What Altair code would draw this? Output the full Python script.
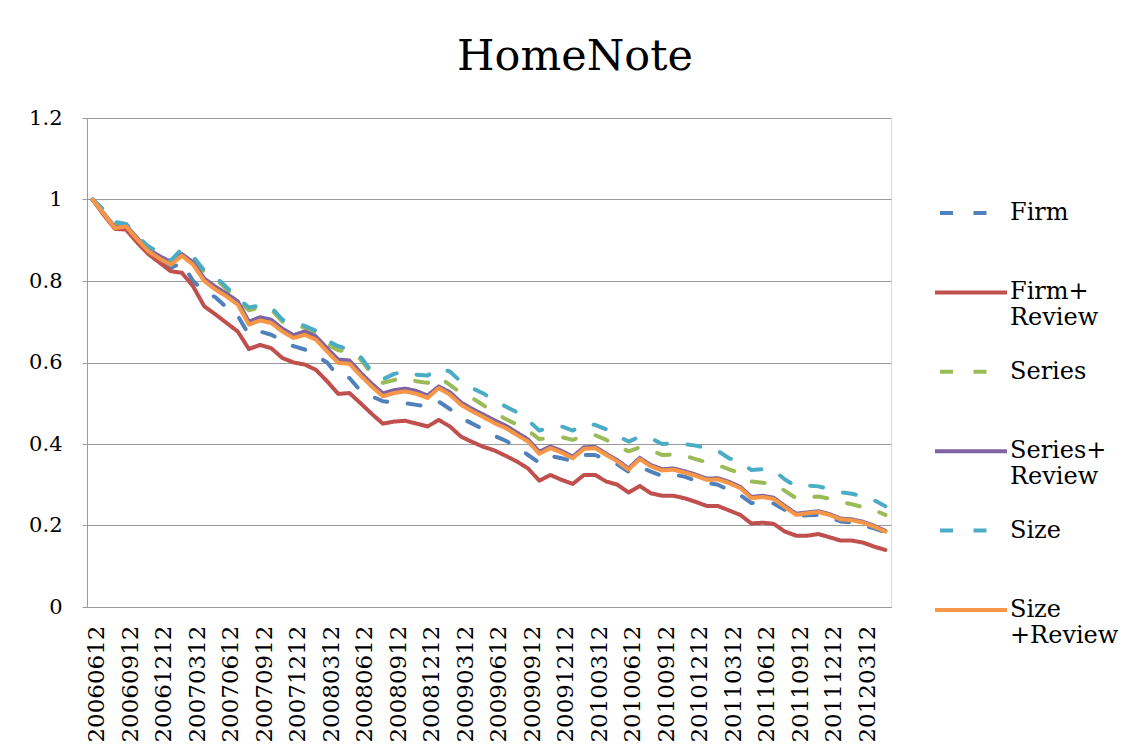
import altair as alt
import pandas as pd

# Category labels (monthly, 200606 .. 201205)
months = [f"{y}{m:02d}12" for y in range(2006, 2013) for m in range(1, 13)][5:5 + 72]
tick_labels = months[::3]

series_names = ["Firm", "Firm+Review", "Series", "Series+Review", "Size", "Size+Review"]
colors = ["#4F81BD", "#C0504D", "#9BBB59", "#8064A2", "#4BACC6", "#F79646"]

firm = [1.000, 0.965, 0.930, 0.930, 0.898, 0.870, 0.850, 0.832, 0.845, 0.800,
        0.775, 0.760, 0.735, 0.715, 0.668, 0.676, 0.668, 0.654, 0.640, 0.632,
        0.617, 0.600, 0.566, 0.562, 0.530, 0.517, 0.505, 0.502, 0.500, 0.496,
        0.492, 0.504, 0.486, 0.464, 0.450, 0.436, 0.420, 0.408, 0.392, 0.373,
        0.354, 0.371, 0.365, 0.358, 0.373, 0.373, 0.362, 0.350, 0.332, 0.345,
        0.332, 0.322, 0.325, 0.320, 0.310, 0.305, 0.300, 0.287, 0.275, 0.255,
        0.257, 0.254, 0.238, 0.224, 0.225, 0.226, 0.220, 0.210, 0.207, 0.200,
        0.193, 0.183]
firm_review = [1.000, 0.962, 0.928, 0.926, 0.894, 0.866, 0.845, 0.824, 0.820, 0.787,
               0.738, 0.718, 0.697, 0.676, 0.633, 0.643, 0.635, 0.611, 0.600, 0.595,
               0.582, 0.554, 0.523, 0.525, 0.500, 0.474, 0.450, 0.455, 0.457, 0.450,
               0.443, 0.459, 0.443, 0.418, 0.405, 0.393, 0.384, 0.371, 0.357, 0.340,
               0.310, 0.324, 0.312, 0.302, 0.324, 0.324, 0.308, 0.300, 0.281, 0.297,
               0.279, 0.273, 0.273, 0.267, 0.258, 0.248, 0.248, 0.237, 0.226, 0.205,
               0.207, 0.204, 0.185, 0.175, 0.175, 0.179, 0.171, 0.163, 0.163, 0.158,
               0.148, 0.140]
series = [1.000, 0.972, 0.942, 0.937, 0.907, 0.882, 0.866, 0.846, 0.873, 0.855,
          0.822, 0.806, 0.780, 0.752, 0.728, 0.735, 0.730, 0.700, 0.694, 0.685,
          0.670, 0.645, 0.630, 0.627, 0.608, 0.572, 0.550, 0.557, 0.562, 0.554,
          0.550, 0.564, 0.545, 0.525, 0.513, 0.495, 0.477, 0.461, 0.448, 0.433,
          0.412, 0.415, 0.417, 0.410, 0.420, 0.422, 0.410, 0.395, 0.382, 0.392,
          0.385, 0.373, 0.374, 0.371, 0.363, 0.355, 0.348, 0.338, 0.328, 0.308,
          0.305, 0.302, 0.285, 0.267, 0.270, 0.271, 0.266, 0.258, 0.252, 0.245,
          0.238, 0.226]
series_review = [1.000, 0.966, 0.932, 0.936, 0.905, 0.877, 0.861, 0.847, 0.866, 0.846,
                 0.806, 0.786, 0.769, 0.750, 0.700, 0.711, 0.705, 0.683, 0.667, 0.676,
                 0.664, 0.635, 0.607, 0.605, 0.575, 0.548, 0.524, 0.532, 0.536, 0.530,
                 0.519, 0.541, 0.527, 0.502, 0.486, 0.472, 0.458, 0.445, 0.428, 0.411,
                 0.381, 0.394, 0.383, 0.369, 0.392, 0.393, 0.376, 0.360, 0.340, 0.366,
                 0.348, 0.338, 0.340, 0.333, 0.325, 0.315, 0.316, 0.307, 0.295, 0.270,
                 0.273, 0.268, 0.248, 0.229, 0.232, 0.235, 0.228, 0.217, 0.215, 0.209,
                 0.199, 0.187]
size = [1.000, 0.975, 0.945, 0.940, 0.910, 0.885, 0.870, 0.850, 0.879, 0.860,
        0.826, 0.810, 0.785, 0.758, 0.735, 0.740, 0.736, 0.705, 0.698, 0.690,
        0.678, 0.654, 0.640, 0.632, 0.614, 0.578, 0.559, 0.572, 0.578, 0.570,
        0.568, 0.586, 0.578, 0.552, 0.537, 0.524, 0.505, 0.492, 0.478, 0.458,
        0.433, 0.440, 0.443, 0.433, 0.448, 0.447, 0.436, 0.420, 0.406, 0.418,
        0.414, 0.400, 0.402, 0.400, 0.396, 0.390, 0.383, 0.365, 0.355, 0.336,
        0.338, 0.335, 0.313, 0.296, 0.298, 0.296, 0.289, 0.282, 0.278, 0.271,
        0.262, 0.247]
size_review = [1.000, 0.965, 0.930, 0.934, 0.902, 0.873, 0.855, 0.840, 0.862, 0.840,
               0.800, 0.779, 0.762, 0.742, 0.693, 0.703, 0.697, 0.676, 0.660, 0.668,
               0.656, 0.627, 0.599, 0.597, 0.568, 0.541, 0.517, 0.525, 0.529, 0.523,
               0.513, 0.537, 0.521, 0.496, 0.480, 0.466, 0.451, 0.439, 0.422, 0.406,
               0.376, 0.390, 0.379, 0.365, 0.388, 0.390, 0.373, 0.357, 0.337, 0.363,
               0.345, 0.335, 0.337, 0.330, 0.322, 0.312, 0.313, 0.304, 0.292, 0.267,
               0.270, 0.265, 0.245, 0.226, 0.230, 0.233, 0.226, 0.215, 0.213, 0.207,
               0.197, 0.185]

all_values = [firm, firm_review, series, series_review, size, size_review]

rows = []
for name, vals in zip(series_names, all_values):
    for m, v in zip(months, vals):
        rows.append({"month": m, "series": name, "value": v})
df = pd.DataFrame(rows)

FONT = "DejaVu Serif"
GRAY = "#9a9a9a"
DASH = [13, 20.5]
dashes = [DASH, [1, 0], DASH, [1, 0], DASH, [1, 0]]

label_expr = (
    "datum.label == 'Firm+Review' ? ['Firm+', 'Review'] : "
    "datum.label == 'Series+Review' ? ['Series+', 'Review'] : "
    "datum.label == 'Size+Review' ? ['Size', '+Review'] : "
    "[datum.label, '']"
)

legend = alt.Legend(
    title=None,
    orient="none",
    legendX=846,
    legendY=57,
    padding=0,
    rowPadding=3.4,
    symbolType="stroke",
    symbolSize=5184,
    symbolStrokeWidth=4,
    symbolDashOffset=-5,
    labelFont=FONT,
    labelFontSize=24,
    labelColor="#000000",
    labelOffset=1,
    labelBaseline="middle",
    labelLimit=300,
    labelExpr=label_expr,
)

chart = (
    alt.Chart(df)
    .mark_line(strokeWidth=4, strokeCap="round", strokeJoin="round")
    .encode(
        x=alt.X(
            "month:O",
            title=None,
            scale=alt.Scale(type="point", padding=0.5),
            axis=alt.Axis(
                values=tick_labels,
                labelAngle=270,
                labelFont=FONT,
                labelFontSize=23,
                labelColor="#000000",
                labelPadding=18,
                labelOffset=4,
                ticks=False,
                domainColor=GRAY,
                domainWidth=1,
                grid=False,
                labelOverlap=False,
            ),
        ),
        y=alt.Y(
            "value:Q",
            title=None,
            scale=alt.Scale(domain=[0, 1.2], nice=False, zero=True),
            axis=alt.Axis(
                values=[0, 0.2, 0.4, 0.6, 0.8, 1.0, 1.2],
                format="~g",
                labelFont=FONT,
                labelFontSize=21,
                labelColor="#000000",
                labelPadding=20,
                tickSize=5,
                tickColor=GRAY,
                domainColor=GRAY,
                gridColor=GRAY,
                gridWidth=1,
            ),
        ),
        color=alt.Color("series:N", title=None,
                        scale=alt.Scale(domain=series_names, range=colors),
                        legend=legend),
        strokeDash=alt.StrokeDash("series:N", title=None,
                                  scale=alt.Scale(domain=series_names, range=dashes),
                                  legend=legend),
    )
    .properties(
        width=804,
        height=489,
        title=alt.TitleParams(
            "HomeNote",
            font=FONT,
            fontSize=43,
            fontWeight="normal",
            color="#000000",
            anchor="middle",
            frame="group",
            baseline="alphabetic",
            dx=86,
            dy=6,
            offset=0,
        ),
        autosize=alt.AutoSizeParams(type="none"),
        padding={"left": 79, "top": 110, "right": 235, "bottom": 141},
    )
    .configure_view(stroke=None)
    .configure(background="#ffffff")
)

chart.save("out.html", embed_options={"renderer": "svg", "actions": False})
